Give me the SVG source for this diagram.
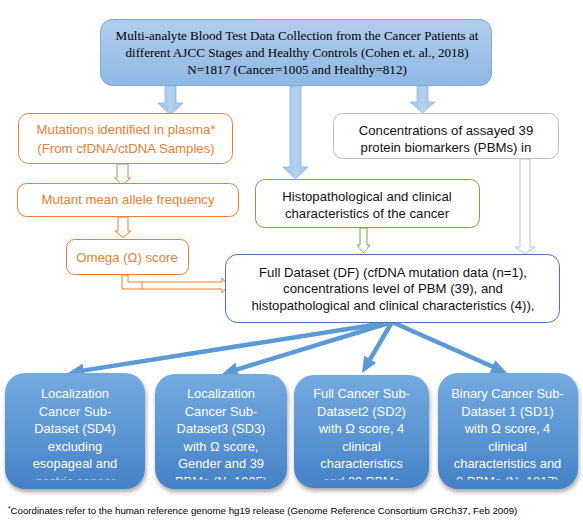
<svg xmlns="http://www.w3.org/2000/svg" width="583" height="525" viewBox="0 0 583 525">
<style>
.serif{font-family:"Liberation Serif","Times New Roman",serif;font-size:13.1px;fill:#000;text-anchor:middle}
.sans{font-family:"Liberation Sans",Arial,sans-serif;text-anchor:middle}
.org{font-size:13.2px;fill:#ed7d31}
.blk{font-size:13.2px;fill:#111}
.wht{font-size:12.9px;fill:#fff}
.obox{fill:#fff;stroke:#ed7d31;stroke-width:1}
.harrow{fill:#fff;stroke-width:1}
.bluebox{fill:url(#gBot);filter:url(#sh)}
.thick{stroke:#5b9bd5;stroke-width:4.5;fill:none;marker-end:url(#ah)}
.blockarrow{fill:url(#gArr);stroke:#8cb8e4;stroke-width:0.8}
</style>
<defs>
<linearGradient id="gTop" x1="0" y1="0" x2="0" y2="1">
<stop offset="0" stop-color="#b0cdec"/>
<stop offset="1" stop-color="#8fb8e4"/>
</linearGradient>
<linearGradient id="gArr" x1="0" y1="0" x2="1" y2="0">
<stop offset="0" stop-color="#9cc2e8"/>
<stop offset="0.5" stop-color="#b4d1ef"/>
<stop offset="1" stop-color="#9cc2e8"/>
</linearGradient>
<linearGradient id="gBot" x1="0" y1="0" x2="0" y2="1">
<stop offset="0" stop-color="#74aae0"/>
<stop offset="1" stop-color="#4482c6"/>
</linearGradient>
<filter id="sh" x="-10%" y="-10%" width="125%" height="125%">
<feDropShadow dx="1" dy="3" stdDeviation="2.2" flood-color="#000" flood-opacity="0.35"/>
</filter>
<marker id="ah" viewBox="0 0 16 14" markerWidth="16" markerHeight="14" refX="6" refY="7" orient="auto" markerUnits="userSpaceOnUse">
<path d="M0,0 L16,7 L0,14 z" fill="#5b9bd5"/>
</marker>
<clipPath id="cl"><rect x="0" y="370" width="583" height="109.5"/></clipPath>
</defs>

<g id="connectors">
<polygon class="blockarrow" points="165,86 176,86 176,103 183,103 170.5,115 158,103 165,103"/>
<polygon class="blockarrow" points="290,86 301,86 301,167 308,167 295.5,179 283,167 290,167"/>
<polygon class="blockarrow" points="417,86 428,86 428,102 435,102 422.5,113 410,102 417,102"/>
<polygon class="harrow" stroke="#ed7d31" points="117,164 128,164 128,178 130.5,178 122.5,185 114.5,178 117,178"/>
<polygon class="harrow" stroke="#ed7d31" points="118,217 128,217 128,231 131,231 123,237.5 115,231 118,231"/>
<polygon class="harrow" stroke="#ed7d31" points="122,275 122,289 222,289 222,293 228,285.5 222,278 222,282 128,282 128,275"/>
<line x1="142" y1="282" x2="142" y2="289" stroke="#ed7d31" stroke-width="1"/>
<polygon class="harrow" stroke="#70ad47" points="360,228 367,228 367,245 370,245 363.5,253 357,245 360,245"/>
<polygon class="harrow" stroke="#bfbfbf" points="520,159 530,159 530,247 535,247 525,254 515,247 520,247"/>
<path class="thick" d="M392,322 L77.9,371.4"/>
<path class="thick" d="M392,322 L231.6,371.1"/>
<path class="thick" d="M392,322 L367.1,364.4"/>
<path class="thick" d="M392,322 L497.9,369"/>
</g>

<g id="top">
<rect x="100.5" y="19.5" width="391" height="66" rx="12" fill="url(#gTop)" stroke="#7aa9dc" stroke-width="1"/>
<text class="serif" x="297" y="39.5">Multi-analyte Blood Test Data Collection from the Cancer Patients at</text>
<text class="serif" x="297" y="56.5">different AJCC Stages and Healthy Controls (Cohen et. al., 2018)</text>
<text class="serif" x="297" y="73.5">N=1817 (Cancer=1005 and Healthy=812)</text>
</g>

<g id="mutations">
<rect class="obox" x="18.5" y="113.5" width="214" height="50" rx="10"/>
<text class="sans org" x="126" y="133.5">Mutations identified in plasma*</text>
<text class="sans org" x="126" y="152.5">(From cfDNA/ctDNA Samples)</text>
</g>

<g id="maf">
<rect class="obox" x="17.5" y="183.5" width="221" height="33" rx="9"/>
<text class="sans org" x="128" y="203.5">Mutant mean allele frequency</text>
</g>

<g id="omega">
<rect class="obox" x="66.5" y="239.5" width="122" height="35" rx="8"/>
<text class="sans org" x="127" y="261.5">Omega (Ω) score</text>
</g>

<g id="pbm">
<rect x="333.5" y="113.5" width="225" height="45" rx="9" fill="#fff" stroke="#bfbfbf" stroke-width="1"/>
<text class="sans blk" x="446" y="134.5">Concentrations of assayed 39</text>
<text class="sans blk" x="446" y="151.5">protein biomarkers (PBMs) in</text>
</g>

<g id="histo">
<rect x="255.5" y="179.5" width="224" height="48" rx="9" fill="#fff" stroke="#70ad47" stroke-width="1"/>
<text class="sans blk" x="367" y="200.5">Histopathological and clinical</text>
<text class="sans blk" x="367" y="217.5">characteristics of the cancer</text>
</g>

<g id="full">
<rect x="225.5" y="254.5" width="334" height="68" rx="12" fill="#fff" stroke="#4472c4" stroke-width="1"/>
<text class="sans blk" x="393" y="276.5">Full Dataset (DF) (cfDNA mutation data (n=1),</text>
<text class="sans blk" x="393" y="293">concentrations level of PBM (39), and</text>
<text class="sans blk" x="393" y="309.5">histopathological and clinical characteristics (4)),</text>
</g>

<g id="sd4">
<rect class="bluebox" x="5" y="373" width="140" height="116" rx="20"/>
<g clip-path="url(#cl)">
<text class="sans wht" x="75" y="398">Localization</text>
<text class="sans wht" x="75" y="415.5">Cancer Sub-</text>
<text class="sans wht" x="75" y="433">Dataset (SD4)</text>
<text class="sans wht" x="75" y="450.5">excluding</text>
<text class="sans wht" x="75" y="468">esopageal and</text>
<text class="sans wht" x="75" y="485.5">gastric cancer</text>
</g>
</g>

<g id="sd3">
<rect class="bluebox" x="155" y="374" width="132" height="115" rx="20"/>
<g clip-path="url(#cl)">
<text class="sans wht" x="221" y="398">Localization</text>
<text class="sans wht" x="221" y="415.5">Cancer Sub-</text>
<text class="sans wht" x="221" y="433">Dataset3 (SD3)</text>
<text class="sans wht" x="221" y="450.5">with Ω score,</text>
<text class="sans wht" x="221" y="468">Gender and 39</text>
<text class="sans wht" x="221" y="485.5">PBMs (N=1005)</text>
</g>
</g>

<g id="sd2">
<rect class="bluebox" x="294" y="375" width="135" height="113" rx="20"/>
<g clip-path="url(#cl)">
<text class="sans wht" x="361.5" y="398">Full Cancer Sub-</text>
<text class="sans wht" x="361.5" y="415.5">Dataset2 (SD2)</text>
<text class="sans wht" x="361.5" y="433">with Ω score, 4</text>
<text class="sans wht" x="361.5" y="450.5">clinical</text>
<text class="sans wht" x="361.5" y="468">characteristics</text>
<text class="sans wht" x="361.5" y="485.5">and 39 PBMs</text>
</g>
</g>

<g id="sd1">
<rect class="bluebox" x="438" y="373" width="140" height="116" rx="20"/>
<g clip-path="url(#cl)">
<text class="sans wht" x="507.5" y="398">Binary Cancer Sub-</text>
<text class="sans wht" x="507.5" y="415.5">Dataset 1 (SD1)</text>
<text class="sans wht" x="507.5" y="433">with Ω score, 4</text>
<text class="sans wht" x="507.5" y="450.5">clinical</text>
<text class="sans wht" x="507.5" y="468">characteristics and</text>
<text class="sans wht" x="507.5" y="485.5">8 PBMs (N=1817)</text>
</g>
</g>

<g id="footnote">
<text x="8" y="514" font-family="Liberation Sans, Arial, sans-serif" font-size="9.7" fill="#000"><tspan font-size="6.5" dy="-3">*</tspan><tspan dy="3">Coordinates refer to the human reference genome hg19 release (Genome Reference Consortium GRCh37, Feb 2009)</tspan></text>
</g>
</svg>
